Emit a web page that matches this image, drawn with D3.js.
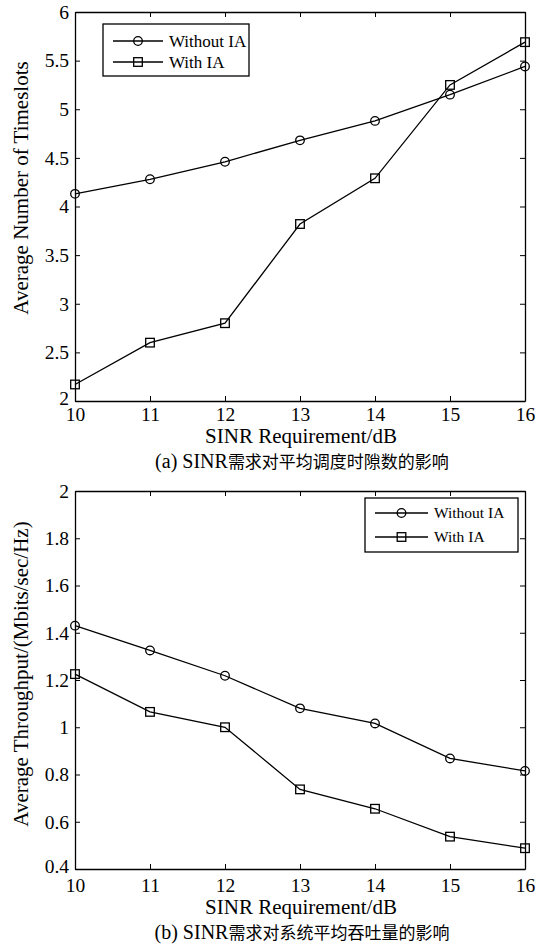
<!DOCTYPE html>
<html>
<head>
<meta charset="utf-8">
<script src="https://cdn.jsdelivr.net/npm/d3@7"></script>
<style>
    body { margin: 0; background: #fff; }
    svg text { font-family: "Liberation Serif", "Noto Sans CJK SC", serif; fill: #000; }
    .axis path, .axis line { stroke: #000; }
</style>
</head>
<body>
<div id="chart"></div>
<script>
// x values shared by both panels
const sinrValues = [10, 11, 12, 13, 14, 15, 16];

// panel (a): average number of timeslots
const timeslotsWithoutIA = [4.13, 4.28, 4.46, 4.68, 4.88, 5.15, 5.44];
const timeslotsWithIA = [2.17, 2.60, 2.80, 3.82, 4.29, 5.25, 5.69];
const timeslotTicks = [2, 2.5, 3, 3.5, 4, 4.5, 5, 5.5, 6];

// panel (b): average throughput
const throughputWithoutIA = [1.43, 1.325, 1.218, 1.08, 1.016, 0.868, 0.815];
const throughputWithIA = [1.225, 1.065, 1.0, 0.737, 0.655, 0.537, 0.488];
const throughputTicks = [0.4, 0.6, 0.8, 1, 1.2, 1.4, 1.6, 1.8, 2];

const seriesNames = ["Without IA", "With IA"];
const markerShapes = ["circle", "square"];

class LinePanel {
    constructor(svg, opts) {
        this.svg = svg;
        this.opts = opts;
        this.left = 75;
        this.right = 525;
        this.top = opts.top;
        this.bottom = opts.bottom;
        this.x = d3.scaleLinear().domain([10, 16]).range([this.left, this.right]);
        this.y = d3.scaleLinear().domain(opts.yDomain).range([this.bottom, this.top]);
    }

    draw() {
        const g = this.svg.append("g");
        const tickLen = 5;
        const shift = this.opts.labelShift;

        // mirrored inward ticks on all four sides, labels only bottom/left
        const axes = [
            [d3.axisBottom(this.x).tickValues(sinrValues).tickFormat(d3.format("d")).tickPadding(6 + shift), this.bottom, "x", true],
            [d3.axisTop(this.x).tickValues(sinrValues), this.top, "x", false],
            [d3.axisLeft(this.y).tickValues(this.opts.yTicks).tickFormat(d3.format("")).tickPadding(6), this.left, "y", true],
            [d3.axisRight(this.y).tickValues(this.opts.yTicks), this.right, "y", false]
        ];
        axes.forEach(([axis, pos, dir, labels]) => {
            axis.tickSizeInner(-tickLen).tickSizeOuter(0);
            const a = g.append("g")
                .attr("class", "axis")
                .attr("transform", dir === "x" ? `translate(0,${pos})` : `translate(${pos},0)`)
                .call(axis);
            a.select(".domain").attr("stroke-width", 1.3);
            a.selectAll("line").attr("stroke-width", 1);
            if (labels) {
                a.selectAll("text").attr("font-size", 19.5);
            } else {
                a.selectAll("text").remove();
            }
            // lowest y label sits a little above the corner, as in matlab
            if (dir === "y" && labels) {
                a.selectAll("text").filter(d => d === this.opts.yDomain[0]).attr("y", -3);
            }
        });

        // axis titles and caption
        const cx = (this.left + this.right) / 2;
        g.append("text")
            .attr("x", cx + 1)
            .attr("y", this.bottom + 41.5 + shift)
            .attr("text-anchor", "middle")
            .attr("font-size", 21)
            .text("SINR Requirement/dB");

        const cap = g.append("text")
            .attr("x", cx + 2)
            .attr("y", this.bottom + 66.5 + shift)
            .attr("text-anchor", "middle");
        cap.append("tspan").attr("font-size", 20).text(this.opts.captionHead);
        cap.append("tspan").attr("font-size", 17).text(this.opts.captionBody);

        g.append("text")
            .attr("transform", `translate(28,${this.opts.yTitleCenter}) rotate(-90)`)
            .attr("text-anchor", "middle")
            .attr("font-size", 21)
            .text(this.opts.yTitle);

        const line = d3.line()
            .x((d, i) => this.x(sinrValues[i]))
            .y(d => this.y(d));

        this.opts.series.forEach((values, s) => {
            g.append("path")
                .datum(values)
                .attr("fill", "none")
                .attr("stroke", "#000")
                .attr("stroke-width", 1.3)
                .attr("d", line);
            values.forEach((v, i) => {
                this.marker(g, this.x(sinrValues[i]), this.y(v), markerShapes[s]);
            });
        });

        this.legend(g);
    }

    marker(g, cx, cy, shape) {
        if (shape === "circle") {
            g.append("circle")
                .attr("cx", cx)
                .attr("cy", cy)
                .attr("r", 4.3)
                .attr("fill", "none")
                .attr("stroke", "#000")
                .attr("stroke-width", 1.3);
        } else {
            g.append("rect")
                .attr("x", cx - 4.3)
                .attr("y", cy - 4.3)
                .attr("width", 8.6)
                .attr("height", 8.6)
                .attr("fill", "none")
                .attr("stroke", "#000")
                .attr("stroke-width", 1.3);
        }
    }

    legend(g) {
        const b = this.opts.legendBox;
        const lg = g.append("g");
        lg.append("rect")
            .attr("x", b.x)
            .attr("y", b.y)
            .attr("width", b.w)
            .attr("height", b.h)
            .attr("fill", "#fff")
            .attr("stroke", "#000")
            .attr("stroke-width", 1.3);
        seriesNames.forEach((name, i) => {
            const ry = b.y + b.rows[i];
            lg.append("line")
                .attr("x1", b.x + b.line[0])
                .attr("x2", b.x + b.line[1])
                .attr("y1", ry)
                .attr("y2", ry)
                .attr("stroke", "#000")
                .attr("stroke-width", 1.3);
            this.marker(lg, b.x + (b.line[0] + b.line[1]) / 2, ry, markerShapes[i]);
            lg.append("text")
                .attr("x", b.x + b.line[1] + 6)
                .attr("y", ry)
                .attr("dy", "0.35em")
                .attr("font-size", b.font)
                .text(name);
        });
    }
}

const svg = d3.select("#chart")
    .append("svg")
    .attr("width", 549)
    .attr("height", 947);

new LinePanel(svg, {
    top: 12,
    bottom: 401,
    labelShift: 0,
    yDomain: [2, 6],
    yTicks: timeslotTicks,
    yTitle: "Average Number of Timeslots",
    yTitleCenter: 188,
    captionHead: "(a) SINR",
    captionBody: "需求对平均调度时隙数的影响",
    series: [timeslotsWithoutIA, timeslotsWithIA],
    legendBox: { x: 103, y: 24, w: 146, h: 52, rows: [17, 38], line: [10, 60], font: 17 }
}).draw();

new LinePanel(svg, {
    top: 491,
    bottom: 869,
    labelShift: 3,
    yDomain: [0.4, 2],
    yTicks: throughputTicks,
    yTitle: "Average Throughput/(Mbits/sec/Hz)",
    yTitleCenter: 674,
    captionHead: "(b) SINR",
    captionBody: "需求对系统平均吞吐量的影响",
    series: [throughputWithoutIA, throughputWithIA],
    legendBox: { x: 365, y: 498, w: 153, h: 54, rows: [15, 39], line: [10, 63], font: 15.5 }
}).draw();
</script>
</body>
</html>
